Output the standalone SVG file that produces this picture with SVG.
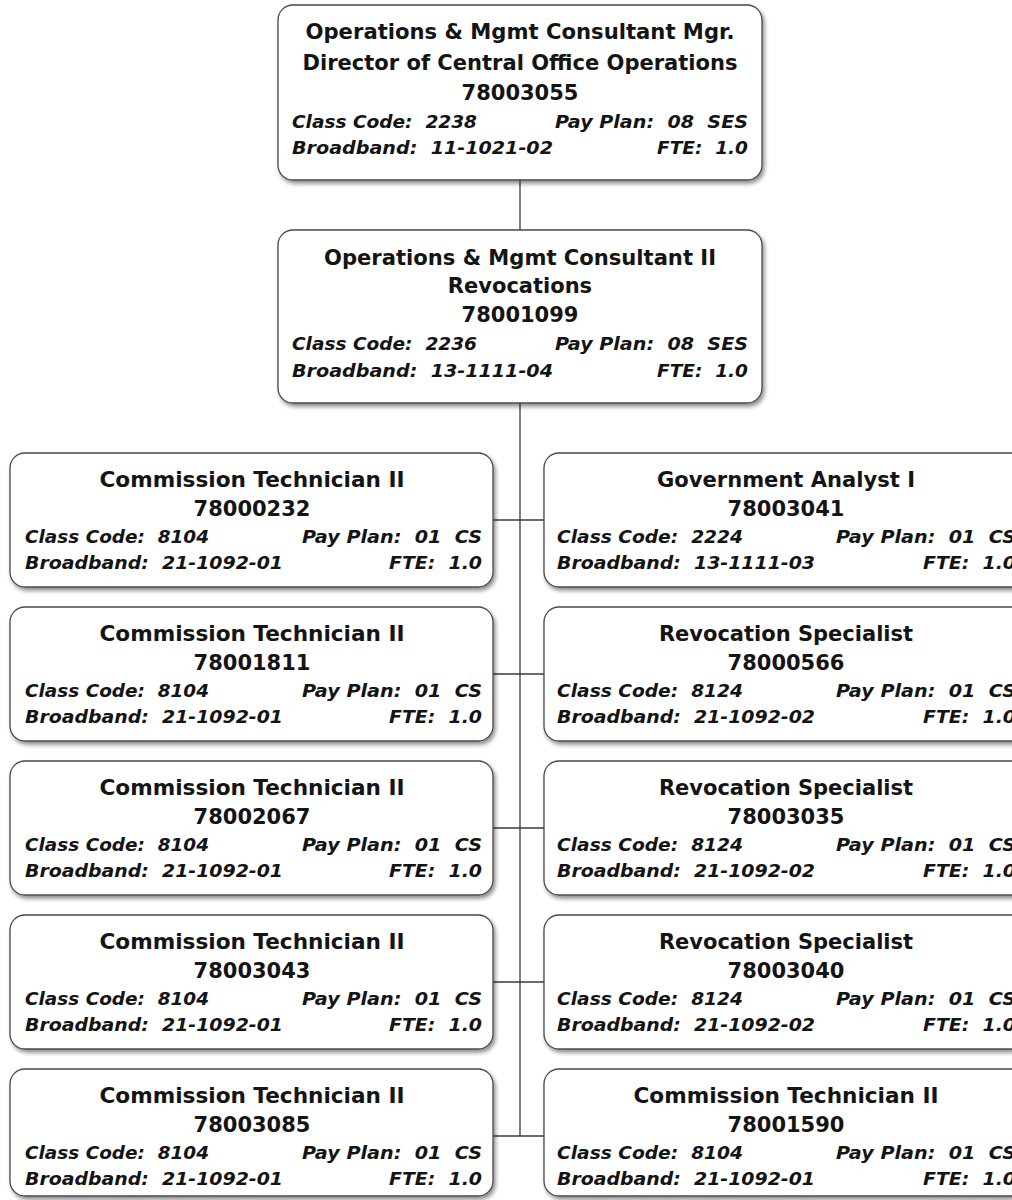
<svg xmlns="http://www.w3.org/2000/svg" width="1012" height="1200" viewBox="0 0 1012 1200">
  <style>
    .box { fill: #ffffff; stroke: #4a4a4a; stroke-width: 1.3; filter: url(#shadow); }
    .title { font-family: "DejaVu Sans", Verdana, sans-serif; font-weight: bold; font-size: 21px; fill: #141414; text-anchor: middle; }
    .data { font-family: "DejaVu Sans", Verdana, sans-serif; font-weight: bold; font-style: italic; font-size: 18.5px; fill: #141414; white-space: pre; }
    .end { text-anchor: end; }
    .link { stroke: #3a3a3a; stroke-width: 1.3; fill: none; }
  </style>
  <defs>
    <filter id="shadow" x="-5%" y="-10%" width="112%" height="125%">
      <feGaussianBlur in="SourceAlpha" stdDeviation="2.2"/>
      <feOffset dx="1.5" dy="3" result="blur"/>
      <feComponentTransfer><feFuncA type="linear" slope="0.45"/></feComponentTransfer>
      <feMerge><feMergeNode/><feMergeNode in="SourceGraphic"/></feMerge>
    </filter>
  </defs>
  <rect width="1012" height="1200" fill="#ffffff"/>

  <!-- connectors -->
  <g id="connectors">
    <line class="link" x1="520" y1="180" x2="520" y2="230"/>
    <line class="link" x1="520" y1="403" x2="520" y2="1136"/>
    <line class="link" x1="493" y1="520" x2="544" y2="520"/>
    <line class="link" x1="493" y1="674" x2="544" y2="674"/>
    <line class="link" x1="493" y1="828" x2="544" y2="828"/>
    <line class="link" x1="493" y1="982" x2="544" y2="982"/>
    <line class="link" x1="493" y1="1136" x2="544" y2="1136"/>
  </g>

  <!-- director -->
  <g id="n78003055">
    <rect class="box" x="278" y="5" width="484" height="175" rx="15"/>
    <text class="title" x="520" y="39" textLength="429" lengthAdjust="spacingAndGlyphs">Operations &amp; Mgmt Consultant Mgr.</text>
    <text class="title" x="520" y="70" textLength="435" lengthAdjust="spacingAndGlyphs">Director of Central Office Operations</text>
    <text class="title" x="520" y="100">78003055</text>
    <text class="data" x="292" y="128" textLength="185" lengthAdjust="spacingAndGlyphs">Class Code:  2238</text>
    <text class="data end" x="748" y="128" textLength="193" lengthAdjust="spacingAndGlyphs">Pay Plan:  08  SES</text>
    <text class="data" x="292" y="154" textLength="261" lengthAdjust="spacingAndGlyphs">Broadband:  11-1021-02</text>
    <text class="data end" x="748" y="154" textLength="91" lengthAdjust="spacingAndGlyphs">FTE:  1.0</text>
  </g>

  <!-- revocations manager -->
  <g id="n78001099">
    <rect class="box" x="278" y="230" width="484" height="173" rx="15"/>
    <text class="title" x="520" y="265" textLength="392" lengthAdjust="spacingAndGlyphs">Operations &amp; Mgmt Consultant II</text>
    <text class="title" x="520" y="293">Revocations</text>
    <text class="title" x="520" y="322">78001099</text>
    <text class="data" x="292" y="350" textLength="185" lengthAdjust="spacingAndGlyphs">Class Code:  2236</text>
    <text class="data end" x="748" y="350" textLength="193" lengthAdjust="spacingAndGlyphs">Pay Plan:  08  SES</text>
    <text class="data" x="292" y="377" textLength="261" lengthAdjust="spacingAndGlyphs">Broadband:  13-1111-04</text>
    <text class="data end" x="748" y="377" textLength="91" lengthAdjust="spacingAndGlyphs">FTE:  1.0</text>
  </g>

  <!-- left column -->
  <g id="n78000232">
    <rect class="box" x="10" y="453" width="483" height="134" rx="15"/>
    <text class="title" x="252" y="487" textLength="305" lengthAdjust="spacingAndGlyphs">Commission Technician II</text>
    <text class="title" x="252" y="516">78000232</text>
    <text class="data" x="25" y="543" textLength="184" lengthAdjust="spacingAndGlyphs">Class Code:  8104</text>
    <text class="data end" x="482" y="543" textLength="180" lengthAdjust="spacingAndGlyphs">Pay Plan:  01  CS</text>
    <text class="data" x="25" y="569" textLength="258" lengthAdjust="spacingAndGlyphs">Broadband:  21-1092-01</text>
    <text class="data end" x="482" y="569" textLength="93" lengthAdjust="spacingAndGlyphs">FTE:  1.0</text>
  </g>
  <g id="n78001811">
    <rect class="box" x="10" y="607" width="483" height="134" rx="15"/>
    <text class="title" x="252" y="641" textLength="305" lengthAdjust="spacingAndGlyphs">Commission Technician II</text>
    <text class="title" x="252" y="670">78001811</text>
    <text class="data" x="25" y="697" textLength="184" lengthAdjust="spacingAndGlyphs">Class Code:  8104</text>
    <text class="data end" x="482" y="697" textLength="180" lengthAdjust="spacingAndGlyphs">Pay Plan:  01  CS</text>
    <text class="data" x="25" y="723" textLength="258" lengthAdjust="spacingAndGlyphs">Broadband:  21-1092-01</text>
    <text class="data end" x="482" y="723" textLength="93" lengthAdjust="spacingAndGlyphs">FTE:  1.0</text>
  </g>
  <g id="n78002067">
    <rect class="box" x="10" y="761" width="483" height="134" rx="15"/>
    <text class="title" x="252" y="795" textLength="305" lengthAdjust="spacingAndGlyphs">Commission Technician II</text>
    <text class="title" x="252" y="824">78002067</text>
    <text class="data" x="25" y="851" textLength="184" lengthAdjust="spacingAndGlyphs">Class Code:  8104</text>
    <text class="data end" x="482" y="851" textLength="180" lengthAdjust="spacingAndGlyphs">Pay Plan:  01  CS</text>
    <text class="data" x="25" y="877" textLength="258" lengthAdjust="spacingAndGlyphs">Broadband:  21-1092-01</text>
    <text class="data end" x="482" y="877" textLength="93" lengthAdjust="spacingAndGlyphs">FTE:  1.0</text>
  </g>
  <g id="n78003043">
    <rect class="box" x="10" y="915" width="483" height="134" rx="15"/>
    <text class="title" x="252" y="949" textLength="305" lengthAdjust="spacingAndGlyphs">Commission Technician II</text>
    <text class="title" x="252" y="978">78003043</text>
    <text class="data" x="25" y="1005" textLength="184" lengthAdjust="spacingAndGlyphs">Class Code:  8104</text>
    <text class="data end" x="482" y="1005" textLength="180" lengthAdjust="spacingAndGlyphs">Pay Plan:  01  CS</text>
    <text class="data" x="25" y="1031" textLength="258" lengthAdjust="spacingAndGlyphs">Broadband:  21-1092-01</text>
    <text class="data end" x="482" y="1031" textLength="93" lengthAdjust="spacingAndGlyphs">FTE:  1.0</text>
  </g>
  <g id="n78003085">
    <rect class="box" x="10" y="1069" width="483" height="127" rx="15"/>
    <text class="title" x="252" y="1103" textLength="305" lengthAdjust="spacingAndGlyphs">Commission Technician II</text>
    <text class="title" x="252" y="1132">78003085</text>
    <text class="data" x="25" y="1159" textLength="184" lengthAdjust="spacingAndGlyphs">Class Code:  8104</text>
    <text class="data end" x="482" y="1159" textLength="180" lengthAdjust="spacingAndGlyphs">Pay Plan:  01  CS</text>
    <text class="data" x="25" y="1185" textLength="258" lengthAdjust="spacingAndGlyphs">Broadband:  21-1092-01</text>
    <text class="data end" x="482" y="1185" textLength="93" lengthAdjust="spacingAndGlyphs">FTE:  1.0</text>
  </g>

  <!-- right column -->
  <g id="n78003041">
    <rect class="box" x="544" y="453" width="483" height="134" rx="15"/>
    <text class="title" x="786" y="487" textLength="258" lengthAdjust="spacingAndGlyphs">Government Analyst I</text>
    <text class="title" x="786" y="516">78003041</text>
    <text class="data" x="557" y="543" textLength="186" lengthAdjust="spacingAndGlyphs">Class Code:  2224</text>
    <text class="data end" x="1016" y="543" textLength="180" lengthAdjust="spacingAndGlyphs">Pay Plan:  01  CS</text>
    <text class="data" x="557" y="569" textLength="258" lengthAdjust="spacingAndGlyphs">Broadband:  13-1111-03</text>
    <text class="data end" x="1016" y="569" textLength="93" lengthAdjust="spacingAndGlyphs">FTE:  1.0</text>
  </g>
  <g id="n78000566">
    <rect class="box" x="544" y="607" width="483" height="134" rx="15"/>
    <text class="title" x="786" y="641">Revocation Specialist</text>
    <text class="title" x="786" y="670">78000566</text>
    <text class="data" x="557" y="697" textLength="186" lengthAdjust="spacingAndGlyphs">Class Code:  8124</text>
    <text class="data end" x="1016" y="697" textLength="180" lengthAdjust="spacingAndGlyphs">Pay Plan:  01  CS</text>
    <text class="data" x="557" y="723" textLength="258" lengthAdjust="spacingAndGlyphs">Broadband:  21-1092-02</text>
    <text class="data end" x="1016" y="723" textLength="93" lengthAdjust="spacingAndGlyphs">FTE:  1.0</text>
  </g>
  <g id="n78003035">
    <rect class="box" x="544" y="761" width="483" height="134" rx="15"/>
    <text class="title" x="786" y="795">Revocation Specialist</text>
    <text class="title" x="786" y="824">78003035</text>
    <text class="data" x="557" y="851" textLength="186" lengthAdjust="spacingAndGlyphs">Class Code:  8124</text>
    <text class="data end" x="1016" y="851" textLength="180" lengthAdjust="spacingAndGlyphs">Pay Plan:  01  CS</text>
    <text class="data" x="557" y="877" textLength="258" lengthAdjust="spacingAndGlyphs">Broadband:  21-1092-02</text>
    <text class="data end" x="1016" y="877" textLength="93" lengthAdjust="spacingAndGlyphs">FTE:  1.0</text>
  </g>
  <g id="n78003040">
    <rect class="box" x="544" y="915" width="483" height="134" rx="15"/>
    <text class="title" x="786" y="949">Revocation Specialist</text>
    <text class="title" x="786" y="978">78003040</text>
    <text class="data" x="557" y="1005" textLength="186" lengthAdjust="spacingAndGlyphs">Class Code:  8124</text>
    <text class="data end" x="1016" y="1005" textLength="180" lengthAdjust="spacingAndGlyphs">Pay Plan:  01  CS</text>
    <text class="data" x="557" y="1031" textLength="258" lengthAdjust="spacingAndGlyphs">Broadband:  21-1092-02</text>
    <text class="data end" x="1016" y="1031" textLength="93" lengthAdjust="spacingAndGlyphs">FTE:  1.0</text>
  </g>
  <g id="n78001590">
    <rect class="box" x="544" y="1069" width="483" height="127" rx="15"/>
    <text class="title" x="786" y="1103" textLength="305" lengthAdjust="spacingAndGlyphs">Commission Technician II</text>
    <text class="title" x="786" y="1132">78001590</text>
    <text class="data" x="557" y="1159" textLength="186" lengthAdjust="spacingAndGlyphs">Class Code:  8104</text>
    <text class="data end" x="1016" y="1159" textLength="180" lengthAdjust="spacingAndGlyphs">Pay Plan:  01  CS</text>
    <text class="data" x="557" y="1185" textLength="258" lengthAdjust="spacingAndGlyphs">Broadband:  21-1092-01</text>
    <text class="data end" x="1016" y="1185" textLength="93" lengthAdjust="spacingAndGlyphs">FTE:  1.0</text>
  </g>
</svg>
